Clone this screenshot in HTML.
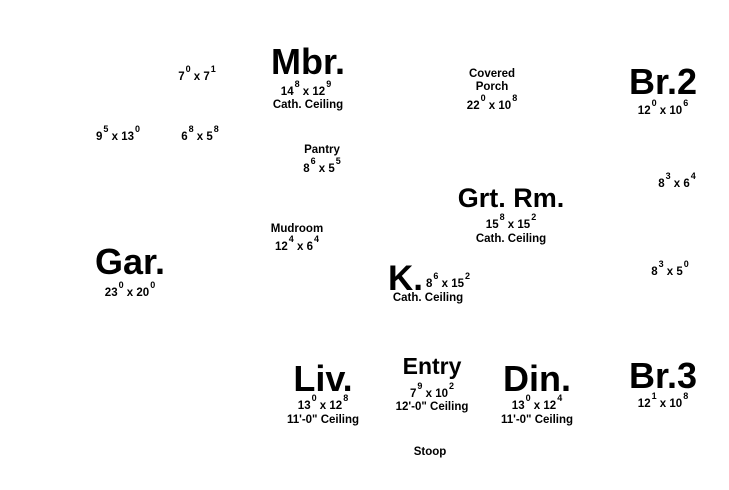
<!DOCTYPE html>
<html><head><meta charset="utf-8"><style>
html,body{margin:0;padding:0;background:#fff;}
body{width:729px;height:490px;position:relative;overflow:hidden;font-family:"Liberation Sans",Arial,sans-serif;font-weight:bold;color:#000;}
.t{position:absolute;transform:translateX(-50%);white-space:nowrap;font-size:11.5px;line-height:11px;}
.b{position:absolute;transform:translateX(-50%);white-space:nowrap;line-height:1;}
.s{position:relative;top:-8px;font-size:9px;margin-left:1px;}
</style></head><body>
<div class="t" style="left:197px;top:72px">7<span class="s">0</span> x 7<span class="s">1</span></div>
<div class="b" style="left:308px;top:44px;font-size:36px">Mbr.</div>
<div class="t" style="left:306px;top:87px">14<span class="s">8</span> x 12<span class="s">9</span></div>
<div class="t" style="left:308px;top:100px">Cath. Ceiling</div>
<div class="t" style="left:118px;top:132px">9<span class="s">5</span> x 13<span class="s">0</span></div>
<div class="t" style="left:200px;top:132px">6<span class="s">8</span> x 5<span class="s">8</span></div>
<div class="t" style="left:322px;top:145px">Pantry</div>
<div class="t" style="left:322px;top:164px">8<span class="s">6</span> x 5<span class="s">5</span></div>
<div class="t" style="left:492px;top:69px">Covered</div>
<div class="t" style="left:492px;top:82px">Porch</div>
<div class="t" style="left:492px;top:101px">22<span class="s">0</span> x 10<span class="s">8</span></div>
<div class="b" style="left:663px;top:64px;font-size:36px">Br.2</div>
<div class="t" style="left:663px;top:106px">12<span class="s">0</span> x 10<span class="s">6</span></div>
<div class="t" style="left:677px;top:179px">8<span class="s">3</span> x 6<span class="s">4</span></div>
<div class="b" style="left:511px;top:185px;font-size:27px">Grt. Rm.</div>
<div class="t" style="left:511px;top:220px">15<span class="s">8</span> x 15<span class="s">2</span></div>
<div class="t" style="left:511px;top:234px">Cath. Ceiling</div>
<div class="t" style="left:297px;top:224px">Mudroom</div>
<div class="t" style="left:297px;top:242px">12<span class="s">4</span> x 6<span class="s">4</span></div>
<div class="b" style="left:130px;top:244px;font-size:36px">Gar.</div>
<div class="t" style="left:130px;top:288px">23<span class="s">0</span> x 20<span class="s">0</span></div>
<div class="b" style="left:388px;top:261px;font-size:35px;transform:none">K.</div>
<div class="t" style="left:426px;top:279px;transform:none">8<span class="s">6</span> x 15<span class="s">2</span></div>
<div class="t" style="left:428px;top:293px">Cath. Ceiling</div>
<div class="t" style="left:670px;top:267px">8<span class="s">3</span> x 5<span class="s">0</span></div>
<div class="b" style="left:323px;top:361px;font-size:36px">Liv.</div>
<div class="t" style="left:323px;top:401px">13<span class="s">0</span> x 12<span class="s">8</span></div>
<div class="t" style="left:323px;top:415px">11'-0" Ceiling</div>
<div class="b" style="left:432px;top:355px;font-size:23px">Entry</div>
<div class="t" style="left:432px;top:389px">7<span class="s">9</span> x 10<span class="s">2</span></div>
<div class="t" style="left:432px;top:402px">12'-0" Ceiling</div>
<div class="b" style="left:537px;top:361px;font-size:36px">Din.</div>
<div class="t" style="left:537px;top:401px">13<span class="s">0</span> x 12<span class="s">4</span></div>
<div class="t" style="left:537px;top:415px">11'-0" Ceiling</div>
<div class="b" style="left:663px;top:358px;font-size:36px">Br.3</div>
<div class="t" style="left:663px;top:399px">12<span class="s">1</span> x 10<span class="s">8</span></div>
<div class="t" style="left:430px;top:447px">Stoop</div>
</body></html>
